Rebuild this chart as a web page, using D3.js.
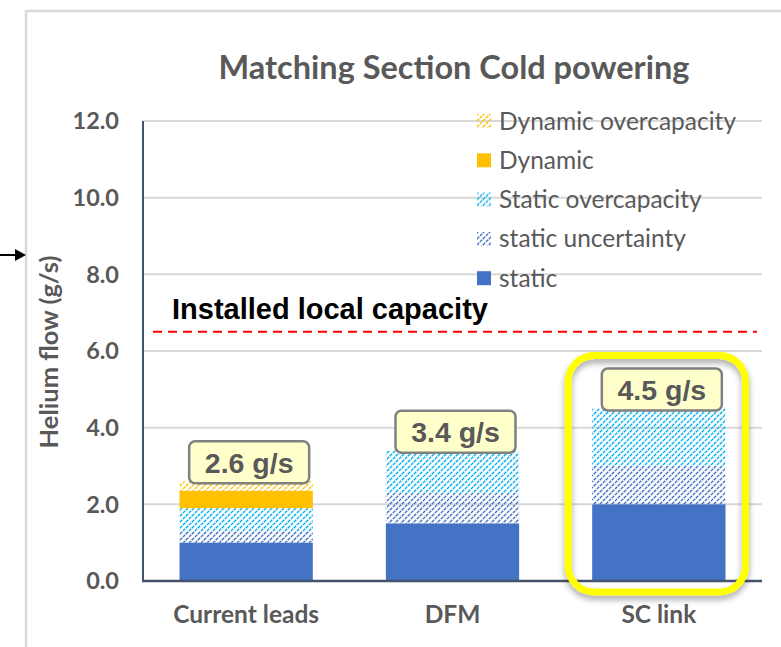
<!DOCTYPE html>
<html>
<head>
<meta charset="utf-8">
<script src="https://cdn.jsdelivr.net/npm/d3@7/dist/d3.min.js"></script>
<style>
  html, body { margin: 0; padding: 0; background: #fff; }
  svg { display: block; }
</style>
</head>
<body>
<svg id="chart" width="781" height="647"></svg>
<script>
// ---- data -------------------------------------------------------------
const categories = ["Current leads", "DFM", "SC link"];
const seriesNames = ["static", "static uncertainty", "Static overcapacity", "Dynamic", "Dynamic overcapacity"];
const staticValues = [1.0, 1.5, 2.0];
const staticUncertaintyValues = [0.3, 0.8, 1.0];
const staticOvercapacityValues = [0.6, 1.1, 1.5];
const dynamicValues = [0.45, 0, 0];
const dynamicOvercapacityValues = [0.25, 0, 0];
const installedCapacity = 6.5;
const yTicks = [0, 2, 4, 6, 8, 10, 12];
const highlighted = "SC link";

// ---- layout -----------------------------------------------------------
const plot = { left: 143, right: 762, top: 121, bottom: 581 };
const GRAY = "#595959";
const CAL = "Lato, 'Open Sans', sans-serif";
const ARIAL = "'Liberation Sans', Arial, sans-serif";

const svg = d3.select("#chart");
const defs = svg.append("defs");

// dotted diagonal hatch fills (lines rising to the right)
function hatch(id, color) {
  const p = defs.append("pattern")
    .attr("id", id)
    .attr("patternUnits", "userSpaceOnUse")
    .attr("width", 6).attr("height", 6);
  p.append("path")
    .attr("d", "M-1.5,1.5 L1.5,-1.5 M0,6 L6,0 M4.5,7.5 L7.5,4.5")
    .attr("stroke", color).attr("stroke-width", 1.4)
    .attr("stroke-dasharray", "3.2 1")
    .attr("fill", "none");
}
hatch("hatch-blue", "#4472C4");
hatch("hatch-cyan", "#00B0F0");
hatch("hatch-orange", "#FFC000");

const fills = {
  "static": "#4472C4",
  "static uncertainty": "url(#hatch-blue)",
  "Static overcapacity": "url(#hatch-cyan)",
  "Dynamic": "#FFC000",
  "Dynamic overcapacity": "url(#hatch-orange)"
};

const shadow = defs.append("filter").attr("id", "soft-shadow")
  .attr("x", "-20%").attr("y", "-20%").attr("width", "140%").attr("height", "140%");
shadow.append("feDropShadow").attr("dx", 0).attr("dy", 4).attr("stdDeviation", 3)
  .attr("flood-color", "#000").attr("flood-opacity", 0.35);

// chart frame
svg.append("rect").attr("x", 26).attr("y", 11).attr("width", 820).attr("height", 700)
  .attr("fill", "#fff").attr("stroke", "#d9d9d9").attr("stroke-width", 2.5);

// pointer arrow at the left edge
svg.append("line").attr("x1", 0).attr("x2", 18).attr("y1", 255).attr("y2", 255)
  .attr("stroke", "#000").attr("stroke-width", 2);
svg.append("path").attr("d", "M15,249 L26,255 L15,261 Z").attr("fill", "#000");

// ---- scales -----------------------------------------------------------
const x = d3.scaleBand().domain(categories)
  .range([plot.left, plot.right]).paddingInner(0.354).paddingOuter(0.177);
const y = d3.scaleLinear().domain([0, 12]).range([plot.bottom, plot.top]);

// gridlines
svg.append("g").selectAll("line").data(yTicks.filter(d => d > 0)).join("line")
  .attr("x1", plot.left).attr("x2", plot.right)
  .attr("y1", d => y(d)).attr("y2", d => y(d))
  .attr("stroke", "#d9d9d9").attr("stroke-width", 2);

// y tick labels
svg.append("g").selectAll("text").data(yTicks).join("text")
  .attr("x", 119).attr("y", d => y(d)).attr("dy", "0.36em")
  .attr("text-anchor", "end")
  .attr("font-family", CAL).attr("font-weight", 700).attr("font-size", 23.5)
  .attr("fill", GRAY).text(d => d3.format(".1f")(d));

// ---- stacked bars -----------------------------------------------------
const rows = categories.map((c, i) => ({
  category: c,
  "static": staticValues[i],
  "static uncertainty": staticUncertaintyValues[i],
  "Static overcapacity": staticOvercapacityValues[i],
  "Dynamic": dynamicValues[i],
  "Dynamic overcapacity": dynamicOvercapacityValues[i]
}));
const stacked = d3.stack().keys(seriesNames)(rows);

svg.append("g").selectAll("g").data(stacked).join("g")
  .attr("fill", s => fills[s.key])
  .selectAll("rect").data(s => s).join("rect")
  .attr("x", d => x(d.data.category))
  .attr("width", x.bandwidth())
  .attr("y", d => y(d[1]))
  .attr("height", d => y(d[0]) - y(d[1]));

// axis lines
svg.append("line").attr("x1", plot.left).attr("x2", plot.left)
  .attr("y1", plot.top).attr("y2", plot.bottom)
  .attr("stroke", "#44546A").attr("stroke-width", 2);
svg.append("line").attr("x1", plot.left - 1).attr("x2", plot.right)
  .attr("y1", plot.bottom).attr("y2", plot.bottom)
  .attr("stroke", "#44546A").attr("stroke-width", 2.5);

// category labels
svg.append("g").selectAll("text").data(categories).join("text")
  .attr("x", d => x(d) + x.bandwidth() / 2).attr("y", 623)
  .attr("text-anchor", "middle")
  .attr("font-family", CAL).attr("font-weight", 700).attr("font-size", 24.5)
  .attr("fill", GRAY).text(d => d);

// installed capacity line + label
svg.append("line").attr("x1", 153).attr("x2", 757)
  .attr("y1", y(installedCapacity)).attr("y2", y(installedCapacity))
  .attr("stroke", "#FF0000").attr("stroke-width", 2).attr("stroke-dasharray", "9 6");
svg.append("text").attr("x", 172).attr("y", 319)
  .attr("font-family", ARIAL).attr("font-weight", 700).attr("font-size", 29)
  .attr("fill", "#000").text("Installed local capacity");

// highlight box around one category
const hb = x(highlighted);
const hRow = rows.find(r => r.category === highlighted);
const hSum = seriesNames.reduce((a, k) => a + hRow[k], 0);
svg.append("rect")
  .attr("x", hb - 24).attr("width", x.bandwidth() + 44)
  .attr("y", y(hSum) - 53).attr("height", plot.bottom + 11 - (y(hSum) - 53))
  .attr("rx", 26).attr("fill", "none")
  .attr("stroke", "#FFFF00").attr("stroke-width", 7)
  .attr("filter", "url(#soft-shadow)");

// total labels
const totals = rows.map(r => ({ category: r.category, total: seriesNames.reduce((a, k) => a + r[k], 0) }));
const lbl = svg.append("g").selectAll("g").data(totals).join("g")
  .attr("transform", d => `translate(${x(d.category) + x.bandwidth() / 2 + 3},${y(d.total) - 19})`);
lbl.append("rect").attr("x", -60).attr("y", -21).attr("width", 120).attr("height", 42)
  .attr("rx", 6).attr("fill", "#FFFFCC").attr("stroke", "#808080").attr("stroke-width", 2.5);
lbl.append("text").attr("text-anchor", "middle").attr("dy", "0.36em")
  .attr("font-family", ARIAL).attr("font-weight", 700).attr("font-size", 28.5)
  .attr("fill", GRAY).text(d => d3.format(".1f")(d.total) + " g/s");

// title
svg.append("text").attr("x", 454).attr("y", 79).attr("text-anchor", "middle")
  .attr("font-family", CAL).attr("font-weight", 700).attr("font-size", 32.5)
  .attr("fill", GRAY).text("Matching Section Cold powering");

// y-axis title
svg.append("text").attr("transform", "translate(58,352) rotate(-90)")
  .attr("text-anchor", "middle")
  .attr("font-family", CAL).attr("font-weight", 700).attr("font-size", 25.5)
  .attr("fill", GRAY).text("Helium flow (g/s)");

// legend (top entry = last stacked series)
const legendOrder = seriesNames.slice().reverse();
const lg = svg.append("g").selectAll("g").data(legendOrder).join("g")
  .attr("transform", (d, i) => `translate(477,${121 + i * 39.3})`);
lg.append("rect").attr("x", 0).attr("y", -7).attr("width", 14).attr("height", 14)
  .attr("fill", d => fills[d]);
lg.append("text").attr("x", 22).attr("dy", "0.35em")
  .attr("font-family", CAL).attr("font-size", 24.5).attr("fill", GRAY)
  .text(d => d);
</script>
</body>
</html>
